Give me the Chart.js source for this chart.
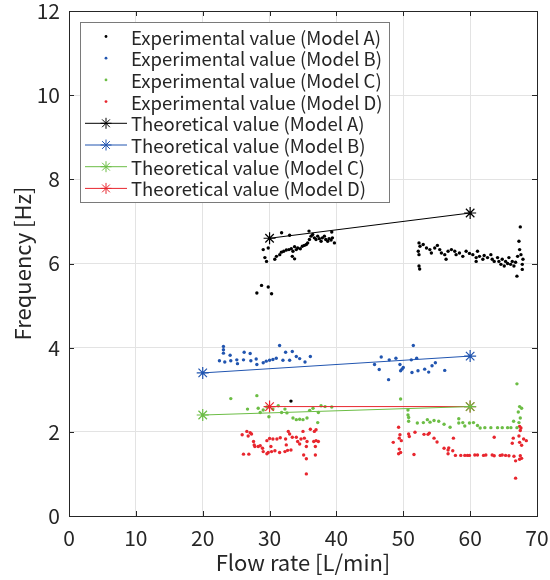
<!DOCTYPE html>
<html>
<head>
<meta charset="utf-8">
<script src="https://cdn.jsdelivr.net/npm/chart.js@4.4.1/dist/chart.umd.min.js"></script>
<style>
html, body { margin: 0; padding: 0; background: #fff; }
#wrap { width: 550px; height: 580px; position: relative; }
</style>
</head>
<body>
<div id="wrap"><canvas id="chart1"></canvas></div>
<script>
// measured data [flow rate, frequency]
var expA = [
    [28.1, 5.30], [28.8, 5.48], [29.8, 5.44], [30.3, 5.28],
    [29.05, 6.33], [29.8, 6.37], [29.3, 6.14], [29.55, 6.05],
    [30.78, 6.10], [31.03, 6.17], [31.52, 6.21], [31.77, 6.27], [31.8, 6.73], [32.12, 6.29],
    [32.51, 6.32], [32.9, 6.33], [33.0, 6.67], [33.25, 6.35], [33.5, 6.29], [33.4, 6.17],
    [33.74, 6.11], [33.74, 6.40], [34.0, 6.33], [34.2, 6.37], [34.6, 6.35], [34.9, 6.41],
    [35.2, 6.43], [35.5, 6.45], [35.7, 6.49], [35.9, 6.77], [35.96, 6.57], [36.2, 6.65],
    [36.45, 6.69], [36.7, 6.61], [36.95, 6.57], [37.2, 6.65], [37.45, 6.59], [37.7, 6.53],
    [37.9, 6.61], [38.2, 6.65], [38.4, 6.57], [38.7, 6.53], [38.9, 6.59], [39.2, 6.56],
    [39.4, 6.61], [39.7, 6.49], [39.3, 6.75], [33.2, 2.73],
    [52.35, 6.49], [52.5, 6.41], [52.24, 6.29], [52.35, 6.21], [52.35, 5.94], [52.45, 5.87],
    [52.98, 6.45], [53.47, 6.37], [53.97, 6.33], [54.2, 6.25], [54.7, 6.37], [55.1, 6.43],
    [55.45, 6.33], [55.7, 6.25], [56.2, 6.21], [56.4, 6.10], [56.7, 6.29], [57.2, 6.33],
    [57.7, 6.29], [57.9, 6.21], [58.4, 6.25], [58.9, 6.17], [59.4, 6.29], [59.9, 6.24],
    [60.4, 6.21], [60.9, 6.14], [61.1, 6.29], [60.9, 6.05], [61.4, 6.17], [61.9, 6.10],
    [62.1, 6.19], [62.6, 6.14], [63.1, 6.21], [63.3, 6.10], [63.6, 6.05], [64.1, 6.14],
    [64.3, 6.05], [64.6, 5.98], [64.8, 6.10], [65.1, 5.94], [65.3, 6.05], [65.6, 6.00],
    [65.8, 6.14], [66.05, 5.98], [66.3, 6.05], [66.55, 5.94], [66.8, 6.03], [67.0, 5.70],
    [67.1, 6.17], [67.3, 6.53], [67.4, 6.33], [67.5, 6.87], [67.6, 6.21], [67.8, 5.86],
    [67.9, 6.10], [67.8, 5.98]
];
var expB = [
    [23.1, 4.03], [23.1, 3.95], [23.1, 3.87], [22.5, 3.69], [23.3, 3.66], [24.1, 3.82],
    [24.2, 3.69], [25.1, 3.71], [25.2, 3.62], [26.2, 3.89], [26.1, 3.71], [27.1, 3.86],
    [27.2, 3.69], [28.0, 3.73], [28.1, 3.60], [29.05, 3.64], [30.0, 3.70], [31.0, 3.75],
    [31.5, 4.05], [32.4, 3.89], [33.4, 3.91], [33.0, 3.70], [34.0, 3.79], [35.3, 3.66],
    [36.1, 3.79], [29.5, 3.68], [30.5, 3.72], [32.0, 3.70], [34.5, 3.74],
    [51.5, 4.05], [46.7, 3.78], [45.7, 3.60], [46.4, 3.48], [47.9, 3.71], [47.8, 3.24],
    [48.9, 3.75], [49.5, 3.60], [49.8, 3.49], [50.0, 3.53], [49.6, 3.45], [51.2, 3.71],
    [52.0, 3.75], [51.3, 3.41], [52.2, 3.45], [53.2, 3.49], [53.8, 3.42], [54.3, 3.57],
    [54.8, 3.64], [56.2, 3.46]
];
var expC = [
    [24.2, 2.79], [28.1, 2.86], [26.7, 2.54], [28.3, 2.56], [28.6, 2.46], [29.05, 2.52],
    [29.6, 2.59], [29.9, 2.36], [30.5, 2.54], [31.3, 2.62], [32.3, 2.54], [31.8, 2.46],
    [32.6, 2.45], [33.5, 2.33], [34.0, 2.29], [34.5, 2.30], [35.0, 2.29], [35.6, 2.33],
    [36.0, 2.51], [36.5, 2.56], [37.2, 2.22], [37.3, 2.46], [37.7, 2.62], [38.3, 2.60],
    [39.3, 2.59],
    [49.6, 2.78], [50.7, 2.52], [50.7, 2.40], [50.8, 2.34], [50.8, 2.25], [52.1, 2.21],
    [53.0, 2.22], [53.6, 2.29], [54.0, 2.23], [54.6, 2.27], [55.3, 2.25], [56.1, 2.18],
    [57.0, 2.11], [58.3, 2.31], [58.3, 2.21], [58.9, 2.22], [59.2, 2.14], [59.9, 2.21],
    [60.5, 2.22], [61.1, 2.15], [61.5, 2.09], [62.2, 2.10], [63.1, 2.10], [64.1, 2.10],
    [64.8, 2.10], [65.6, 2.10], [66.1, 2.10], [66.5, 2.25], [67.0, 2.10], [67.0, 3.14],
    [67.4, 2.60], [67.7, 2.56], [67.2, 2.47], [67.5, 2.33], [67.3, 2.22]
];
var expD = [
    [25.9, 1.93], [26.6, 2.01], [27.1, 1.98], [26.8, 1.90], [27.3, 1.95], [27.6, 1.77],
    [27.7, 1.69], [27.8, 1.65], [28.3, 1.65], [28.6, 1.67], [26.1, 1.47], [26.9, 1.47],
    [28.95, 1.61], [29.05, 1.53], [29.6, 1.48], [29.8, 1.51], [30.3, 1.53], [30.8, 1.55],
    [31.5, 1.51], [32.3, 1.53], [32.7, 1.56], [33.2, 1.57], [29.6, 1.79], [30.0, 1.84],
    [30.5, 1.83], [31.1, 1.83], [31.6, 1.86], [32.4, 1.83], [30.2, 1.65], [32.8, 2.01],
    [33.0, 1.95], [33.4, 1.87], [34.0, 1.87], [32.5, 1.69], [34.2, 1.77], [34.5, 1.71],
    [34.7, 1.83], [35.2, 1.85], [35.6, 1.77], [35.0, 2.01], [35.5, 1.65], [35.1, 1.45],
    [35.5, 1.36], [35.5, 1.00], [36.1, 2.06], [36.7, 2.01], [36.95, 2.05], [36.6, 1.77],
    [36.95, 1.79], [37.3, 1.77], [36.85, 1.65], [36.85, 1.45],
    [49.3, 2.11], [48.5, 1.75], [49.4, 1.85], [49.5, 1.93], [49.7, 1.79], [49.4, 1.59],
    [49.6, 1.51], [49.3, 1.48], [50.8, 1.95], [50.9, 1.89], [51.75, 1.99], [51.6, 1.46],
    [53.1, 1.94], [53.7, 1.94], [53.9, 1.97], [54.6, 1.85], [55.05, 1.76], [56.1, 1.61],
    [56.7, 1.57], [56.8, 1.62], [56.7, 1.48], [57.4, 1.55], [57.5, 1.85], [57.8, 1.44],
    [58.6, 1.44], [59.2, 1.44], [59.6, 1.44], [59.9, 1.44], [60.7, 1.45], [61.1, 1.45],
    [62.0, 1.44], [62.35, 1.45], [63.3, 1.45], [63.6, 1.43], [64.5, 1.44], [64.8, 1.45],
    [65.3, 1.44], [65.8, 1.43], [66.55, 1.42], [63.6, 1.87], [66.8, 1.31], [66.8, 0.90],
    [66.45, 1.85], [66.3, 1.73], [67.4, 2.13], [67.6, 2.09], [67.5, 2.03], [67.3, 1.90],
    [68.0, 1.83], [68.4, 1.79], [67.4, 1.75], [67.7, 1.68], [67.5, 1.43], [67.7, 1.37],
    [67.4, 1.35]
];

// theoretical values [flow rate, frequency]
var theoA = [[30, 6.6], [60, 7.2]];
var theoB = [[20, 3.4], [60, 3.8]];
var theoC = [[20, 2.4], [60, 2.6]];
var theoD = [[30, 2.6], [60, 2.6]];

var modelNames = ["A", "B", "C", "D"];
var colors = ["#000000", "#2155b0", "#6cbd45", "#e8262e"];

var axisColor = "#262626";
var fontName = "'Noto Sans CJK JP', 'Noto Sans', sans-serif";

function toXY(arr) {
    return arr.map(function (p) { return { x: p[0], y: p[1] }; });
}

var datasets = [];
[expA, expB, expC, expD].forEach(function (d, i) {
    datasets.push({
        type: 'scatter',
        label: "Experimental value (Model " + modelNames[i] + ")",
        data: toXY(d),
        backgroundColor: colors[i],
        borderColor: colors[i],
        pointRadius: 1.7,
        pointBorderWidth: 0,
        showLine: false,
        order: 2
    });
});
[theoA, theoB, theoC, theoD].forEach(function (d, i) {
    datasets.push({
        type: 'line',
        label: "Theoretical value (Model " + modelNames[i] + ")",
        data: toXY(d),
        borderColor: colors[i],
        backgroundColor: colors[i],
        borderWidth: 1,
        pointStyle: 'star',
        pointRadius: 6,
        pointBorderWidth: 1.2,
        fill: false,
        order: 1
    });
});

// box, inner ticks and the legend inside the plot
var boxPlugin = {
    id: 'boxPlugin',
    afterDraw: function (chart) {
        var ctx = chart.ctx, a = chart.chartArea;
        var xs = chart.scales.x, ys = chart.scales.y;
        ctx.save();
        ctx.strokeStyle = axisColor;
        ctx.lineWidth = 1;
        ctx.beginPath();
        xs.ticks.forEach(function (t) {
            var px = Math.round(xs.getPixelForValue(t.value)) + 0.5;
            ctx.moveTo(px, a.bottom); ctx.lineTo(px, a.bottom - 5);
            ctx.moveTo(px, a.top); ctx.lineTo(px, a.top + 5);
        });
        ys.ticks.forEach(function (t) {
            var py = Math.round(ys.getPixelForValue(t.value)) + 0.5;
            ctx.moveTo(a.left, py); ctx.lineTo(a.left + 5, py);
            ctx.moveTo(a.right, py); ctx.lineTo(a.right - 5, py);
        });
        ctx.stroke();
        ctx.strokeRect(Math.round(a.left) + 0.5, Math.round(a.top) + 0.5,
            Math.round(a.right - a.left), Math.round(a.bottom - a.top));

        // legend
        var lx = 80.5, ly = 22.5, lw = 309, lh = 180, rowH = 21.7;
        ctx.fillStyle = "#ffffff";
        ctx.fillRect(lx, ly, lw, lh);
        ctx.strokeStyle = "#7a7a7a";
        ctx.strokeRect(lx, ly, lw, lh);
        ctx.font = "18.5px " + fontName;
        ctx.textBaseline = "middle";
        ctx.textAlign = "left";
        chart.data.datasets.forEach(function (ds, i) {
            var cy = ly + 14 + i * rowH;
            if (ds.type === 'scatter') {
                ctx.fillStyle = ds.backgroundColor;
                ctx.beginPath();
                ctx.arc(106, cy, 1.4, 0, Math.PI * 2);
                ctx.fill();
            } else {
                ctx.strokeStyle = ds.borderColor;
                ctx.lineWidth = 1;
                ctx.beginPath();
                ctx.moveTo(85, cy); ctx.lineTo(127, cy);
                ctx.stroke();
                Chart.helpers.drawPoint(ctx, { pointStyle: 'star', radius: 5.5, rotation: 0, borderWidth: 1 }, 106, cy);
            }
            ctx.fillStyle = "#262626";
            ctx.fillText(ds.label, 131, cy + 1);
        });
        ctx.restore();
    }
};

var char1El = document.getElementById('chart1');
new Chart(char1El, {
    data: { datasets: datasets },
    options: {
        responsive: true,
        maintainAspectRatio: false,
        animation: false,
        layout: { padding: { top: 11, right: 13, left: 0, bottom: 0 } },
        plugins: {
            legend: { display: false },
            tooltip: { enabled: false }
        },
        scales: {
            x: {
                type: 'linear',
                min: 0,
                max: 70,
                ticks: { stepSize: 10, color: axisColor, padding: 9, font: { family: fontName, size: 21 } },
                grid: { color: "#e3e3e3", drawTicks: false },
                border: { display: false },
                title: { display: true, text: "Flow rate [L/min]", color: axisColor, padding: { top: 0, bottom: 4 }, font: { family: fontName, size: 22 } },
                afterFit: function (s) { s.height = 64; s.paddingLeft = 0; s.paddingRight = 0; }
            },
            y: {
                type: 'linear',
                min: 0,
                max: 12,
                ticks: { stepSize: 2, color: axisColor, padding: 9, font: { family: fontName, size: 21 } },
                grid: { color: "#e3e3e3", drawTicks: false },
                border: { display: false },
                title: { display: true, text: "Frequency [Hz]", color: axisColor, padding: { top: 9, bottom: 0 }, font: { family: fontName, size: 22 } },
                afterFit: function (s) { s.width = 69; s.paddingTop = 0; s.paddingBottom = 0; }
            }
        }
    },
    plugins: [boxPlugin]
});
</script>
</body>
</html>
